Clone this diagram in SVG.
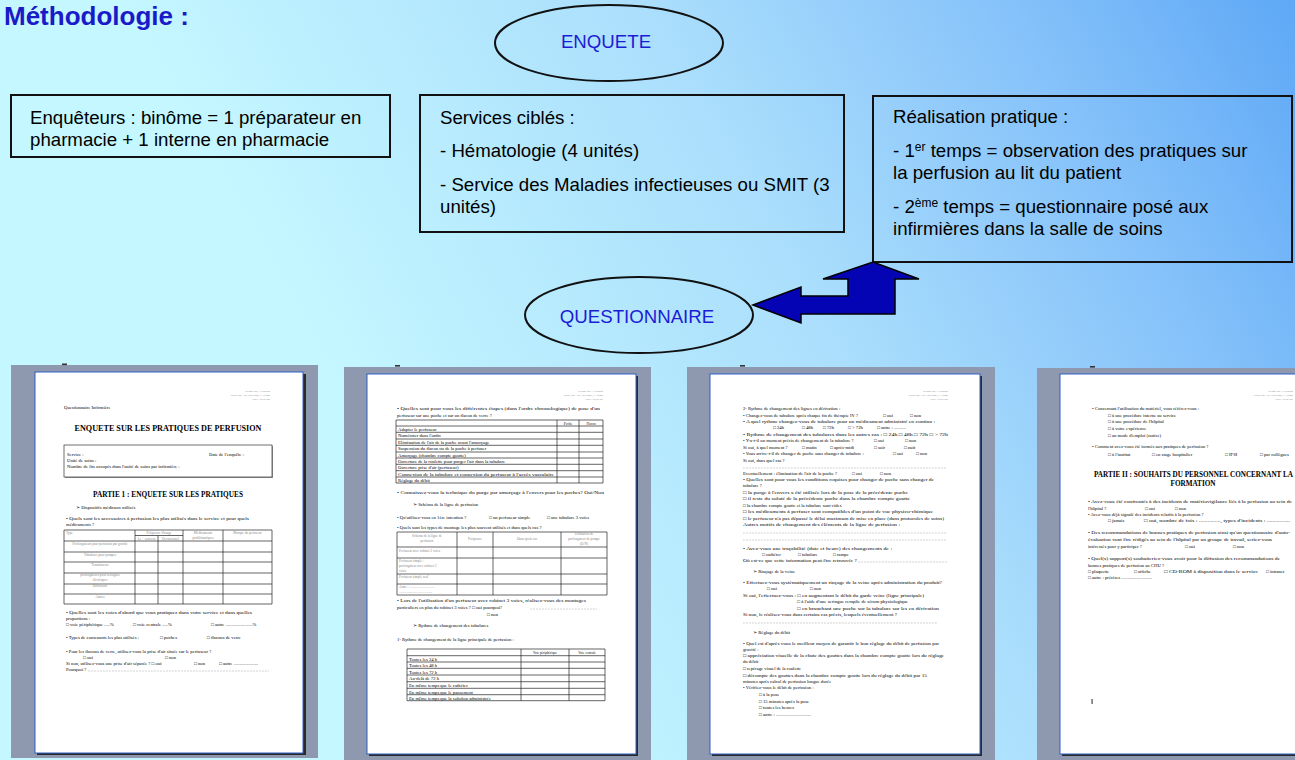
<svg xmlns="http://www.w3.org/2000/svg" width="1295" height="760" viewBox="0 0 1295 760">
<defs>
<linearGradient id="bg" gradientUnits="userSpaceOnUse" x1="400" y1="500" x2="1295" y2="0">
<stop offset="0" stop-color="#c4f7ff"/>
<stop offset="0.45" stop-color="#aadefc"/>
<stop offset="0.75" stop-color="#86c2fa"/>
<stop offset="1" stop-color="#5ea8f6"/>
</linearGradient>
<style>
.title{font-family:"Liberation Sans",Arial,sans-serif;font-weight:bold;font-size:26px;fill:#1a1ac8}
.box{fill:none;stroke:#111;stroke-width:2}
.ell{fill:none;stroke:#111;stroke-width:2}
.lbl{font-family:"Liberation Sans",Arial,sans-serif;font-size:18.67px;fill:#000}
.sup{font-size:12px}
.elab{font-family:"Liberation Sans",Arial,sans-serif;font-size:18.67px;fill:#1c1cd6;text-anchor:middle}
.frame{fill:#8e98ae}
.mark{fill:#333}
.shadow{fill:#2a2a2a}
.page{fill:#fff;stroke:#2f60c4;stroke-width:1}
.d{font-family:"Liberation Serif","Times New Roman",serif;font-size:4.7px;fill:#000}
.g{font-family:"Liberation Serif","Times New Roman",serif;font-size:3.4px;fill:#888}
.gc{font-family:"Liberation Serif","Times New Roman",serif;font-size:3.4px;fill:#888;text-anchor:middle}
.hd{font-family:"Liberation Serif","Times New Roman",serif;font-size:2.8px;fill:#888;text-anchor:end}
.h1{font-family:"Liberation Serif","Times New Roman",serif;font-size:8px;font-weight:bold;fill:#000;text-anchor:middle}
.h2{font-family:"Liberation Serif","Times New Roman",serif;font-size:7.2px;font-weight:bold;fill:#000}
.tl{fill:none;stroke:#222;stroke-width:0.7}
.dot{stroke:#666;stroke-width:0.5;stroke-dasharray:0.6 0.9}
.arrow{fill:#0404b4;stroke:#000;stroke-width:1.5;stroke-linejoin:miter}
</style>
</defs>

<rect x="0" y="0" width="1295" height="760" fill="url(#bg)"/>

<text id="title" class="title" x="4" y="25">Méthodologie :</text>

<g id="node-enquete">
<ellipse class="ell" cx="609" cy="43" rx="114" ry="38"/>
<text class="elab" x="606" y="48">ENQUETE</text>
</g>

<g id="node-questionnaire">
<ellipse class="ell" cx="639" cy="315" rx="114" ry="38"/>
<text class="elab" x="637" y="323">QUESTIONNAIRE</text>
</g>

<g id="node-enqueteurs">
<rect class="box" x="11" y="95" width="379" height="62"/>
<text class="lbl" x="30" y="124">Enquêteurs : binôme = 1 préparateur en</text>
<text class="lbl" x="30" y="146">pharmacie + 1 interne en pharmacie</text>
</g>

<g id="node-services">
<rect class="box" x="420" y="95" width="424" height="137"/>
<text class="lbl" x="440" y="124">Services ciblés :</text>
<text class="lbl" x="440" y="157">- Hématologie (4 unités)</text>
<text class="lbl" x="440" y="191">- Service des Maladies infectieuses ou SMIT (3</text>
<text class="lbl" x="440" y="213">unités)</text>
</g>

<g id="node-realisation">
<rect class="box" x="873" y="96" width="419" height="166"/>
<text class="lbl" x="893" y="123">Réalisation pratique :</text>
<text class="lbl" x="893" y="157">- 1<tspan class="sup" dy="-6">er</tspan><tspan dy="6"> temps = observation des pratiques sur</tspan></text>
<text class="lbl" x="893" y="179">la perfusion au lit du patient</text>
<text class="lbl" x="893" y="213">- 2<tspan class="sup" dy="-6">ème</tspan><tspan dy="6"> temps = questionnaire posé aux</tspan></text>
<text class="lbl" x="893" y="235">infirmières dans la salle de soins</text>
</g>

<g id="connectors">
<polygon class="arrow" points="753,305 801,287 801,296 848,296 848,279 823,279 873,262 919,279 895,279 895,314 801,314 801,323"/>
</g>

<g id="doc-1">
<rect class="frame" x="11" y="365" width="307" height="393"/>
<rect class="mark" x="62" y="363.5" width="5" height="1.6"/>
<rect class="shadow" x="37" y="374" width="269" height="381"/>
<rect class="page" x="35" y="372" width="268" height="381"/>
<text class="hd" x="270" y="392">Rédigé par : E.Drouin</text>
<text class="hd" x="270" y="396">Validé par : Dr. Thévenot, J. Lafont</text>
<text class="hd" x="270" y="400">Date : 27/03/09</text>
<text class="d" x="64" y="409">Questionnaire Infirmière</text>
<text class="h1" x="168" y="431" textLength="187" lengthAdjust="spacingAndGlyphs">ENQUETE SUR LES PRATIQUES DE PERFUSION</text>
<rect x="65" y="446" width="208" height="32" fill="#999"/>
<rect x="64" y="445" width="208" height="32" fill="#fff" stroke="#333" stroke-width="0.7"/>
<text class="d" x="67" y="456">Service :</text>
<text class="d" x="209" y="456">Date de l'enquête :</text>
<text class="d" x="67" y="462">Unité de soins :</text>
<text class="d" x="67" y="468">Nombre de lits occupés dans l'unité de soins par infirmière :</text>
<text class="h2" x="168" y="497" text-anchor="middle" textLength="150" lengthAdjust="spacingAndGlyphs">PARTIE 1 : ENQUETE SUR LES PRATIQUES</text>
<text class="d" x="76" y="509">➢  Dispositifs médicaux utilisés</text>
<text class="d" x="66" y="520" textLength="183" lengthAdjust="spacingAndGlyphs">• Quels sont les accessoires à perfusion les plus utilisés dans le service et pour quels</text>
<text class="d" x="66" y="526">médicaments ?</text>
<path class="tl" d="M64 530H272V604H64Z M64 541H272 M64 552H272 M64 562H272 M64 573H272 M64 584H272 M64 594H272 M135 535.5H183 M135 530V604 M183 530V604 M223 530V604 M158 535.5V604"/>
<text class="g" x="66" y="534">Type</text>
<text class="gc" x="159" y="534">Fréquence d'usage</text>
<text class="gc" x="146.5" y="540">Le + souvent</text>
<text class="gc" x="170.5" y="540">Occasionnel</text>
<text class="gc" x="203" y="534">Médicaments</text>
<text class="gc" x="203" y="539">problématiques</text>
<text class="gc" x="247.5" y="534">Marque du perfuseur</text>
<text class="gc" x="100" y="545">Prolongateurs pour perfusion par gravité</text>
<text class="gc" x="100" y="556">Tubulures pour pompes</text>
<text class="gc" x="100" y="566">Transfuseurs</text>
<text class="gc" x="100" y="576">prolongateurs pour seringues</text>
<text class="gc" x="100" y="580.5">électriques</text>
<text class="gc" x="100" y="587">Diffuseurs</text>
<text class="gc" x="100" y="598">Autres</text>
<text class="d" x="66" y="614" textLength="186" lengthAdjust="spacingAndGlyphs">• Quelles sont les voies d'abord que vous pratiquez dans votre service et dans quelles</text>
<text class="d" x="66" y="620">proportions :</text>
<text class="d" x="66" y="626">□ voie périphérique .....%</text>
<text class="d" x="133" y="626">□ voie centrale .....%</text>
<text class="d" x="211" y="626">□ autre .......................%</text>
<text class="d" x="66" y="639">• Types de contenants les plus utilisés :</text>
<text class="d" x="160" y="639">□ poches</text>
<text class="d" x="207" y="639">□ flacons de verre</text>
<text class="d" x="66" y="653">• Pour les flacons de verre, utilisez-vous la prise d'air située sur le perfuseur ?</text>
<text class="d" x="83" y="659">□ oui</text>
<text class="d" x="165" y="659">□ non</text>
<text class="d" x="66" y="665">Si non, utilisez-vous une prise d'air séparée ?  □ oui</text>
<text class="d" x="194" y="665">□ non</text>
<text class="d" x="219" y="665">□ autre .....................</text>
<text class="d" x="66" y="671">Pourquoi ?</text>
<line class="dot" x1="88" y1="671" x2="269" y2="671"/>
</g>

<g id="doc-2">
<rect class="frame" x="344" y="367" width="307" height="393"/>
<rect class="mark" x="395" y="365" width="5" height="1.6"/>
<rect class="shadow" x="369" y="376" width="269" height="380"/>
<rect class="page" x="367" y="374" width="269" height="380"/>
<text class="hd" x="603" y="392">Rédigé par : E.Drouin</text>
<text class="hd" x="603" y="396">Validé par : Dr. Thévenot, J. Lafont</text>
<text class="hd" x="603" y="400">Date : 27/03/09</text>
<text class="d" x="397" y="410" textLength="203" lengthAdjust="spacingAndGlyphs">• Quelles sont pour vous les différentes étapes (dans l'ordre chronologique) de pose d'un</text>
<text class="d" x="397" y="417">perfuseur sur une poche et sur un flacon de verre ?</text>
<path class="tl" d="M396 420H603V483H396Z M396 426H603 M396 432.3H603 M396 439H603 M396 445.3H603 M396 452H603 M396 458H603 M396 464.3H603 M396 470.7H603 M396 477H603 M557 420V483 M579 420V483"/>
<text class="gc" x="568" y="425" style="fill:#111">Poche</text>
<text class="gc" x="591" y="425" style="fill:#111">Flacon</text>
<text class="d" x="398" y="431">Adapter le perfuseur</text>
<text class="d" x="398" y="437.3">Numéroter dans l'ordre</text>
<text class="d" x="398" y="443.7">Elimination de l'air de la poche avant l'amorçage</text>
<text class="d" x="398" y="450">Suspension du flacon ou de la poche à perfuser</text>
<text class="d" x="398" y="456.7">Amorçage (chambre compte goutte)</text>
<text class="d" x="398" y="463">Ouverture de la roulette pour purger l'air dans la tubulure</text>
<text class="d" x="398" y="469.3">Ouverture prise d'air (perfuseur)</text>
<text class="d" x="398" y="475.7" textLength="156" lengthAdjust="spacingAndGlyphs">Connexion de la tubulure et connexion du perfuseur à l'accès vasculaire</text>
<text class="d" x="398" y="482">Réglage du débit</text>
<text class="d" x="397" y="494" textLength="207" lengthAdjust="spacingAndGlyphs">• Connaissez-vous la technique du purge par amorçage à l'envers pour les poches? Oui/Non</text>
<text class="d" x="413" y="506">➢  Schéma de la ligne de perfusion</text>
<text class="d" x="397" y="519">• Qu'utilisez-vous en 1ère intention ?</text>
<text class="d" x="489" y="519">□ un perfuseur simple</text>
<text class="d" x="547" y="519">□ une tubulure 3 voies</text>
<text class="d" x="397" y="529">• Quels sont les types de montage les plus souvent utilisés et dans quels cas ?</text>
<path class="tl" d="M397 532H607V595H397Z M397 547H607 M397 558H607 M397 574H607 M397 584H607 M457 532V595 M493 532V595 M561 532V595"/>
<text class="gc" x="427" y="537">Schéma de la ligne de</text>
<text class="gc" x="427" y="542">perfusion</text>
<text class="gc" x="475" y="540">Fréquence</text>
<text class="gc" x="527" y="540">Dans quels cas</text>
<text class="gc" x="584" y="535">Utilisation de</text>
<text class="gc" x="584" y="540">prolongateur de pompe</text>
<text class="gc" x="584" y="545">(O/N)</text>
<text class="g" x="399" y="551.5">Perfuseur avec robinet 3 voies</text>
<text class="g" x="399" y="561.5">Perfuseur simple +</text>
<text class="g" x="399" y="566.5">prolongateur avec robinet 3</text>
<text class="g" x="399" y="571.5">voies</text>
<text class="g" x="399" y="578">Perfuseur simple seul</text>
<text class="g" x="399" y="588">Autre : .............................</text>
<text class="g" x="399" y="593">.......................................</text>
<text class="d" x="397" y="602" textLength="189" lengthAdjust="spacingAndGlyphs">• Lors de l'utilisation d'un perfuseur avec robinet 3 voies, réalisez-vous des montages</text>
<text class="d" x="397" y="609">particuliers en plus du robinet 3 voies ?  □ oui pourquoi?</text>
<line class="dot" x1="530" y1="609" x2="597" y2="609"/>
<text class="d" x="487" y="616">□ non</text>
<text class="d" x="413" y="627">➢  Rythme de changement des tubulures</text>
<text class="d" x="397" y="641">1- Rythme de changement de la ligne principale de perfusion :</text>
<path class="tl" d="M407 649H605V700.7H407Z M407 655.7H605 M407 662H605 M407 668.3H605 M407 675H605 M407 681.7H605 M407 688.3H605 M407 694.7H605 M521 649V700.7 M569 649V700.7"/>
<text class="gc" x="545" y="654" style="fill:#111">Voie périphérique</text>
<text class="gc" x="587" y="654" style="fill:#111">Voie centrale</text>
<text class="d" x="409" y="661">Toutes les 24 h</text>
<text class="d" x="409" y="667.3">Toutes les 48 h</text>
<text class="d" x="409" y="673.6">Toutes les 72 h</text>
<text class="d" x="409" y="680.3">Au-delà de 72 h</text>
<text class="d" x="409" y="687">En même temps que le cathéter</text>
<text class="d" x="409" y="693.6">En même temps que le pansement</text>
<text class="d" x="409" y="700">En même temps que la solution administrée</text>
</g>

<g id="doc-3">
<rect class="frame" x="687" y="367" width="308" height="393"/>
<rect class="mark" x="740" y="365" width="5" height="1.6"/>
<rect class="shadow" x="712" y="376" width="270" height="380"/>
<rect class="page" x="710" y="374" width="270" height="380"/>
<text class="hd" x="948" y="392">Rédigé par : E.Drouin</text>
<text class="hd" x="948" y="396">Validé par : Dr. Thévenot, J. Lafont</text>
<text class="hd" x="948" y="400">Date : 27/03/09</text>
<text class="d" x="743" y="410">2- Rythme de changement des lignes en dérivation :</text>
<text class="d" x="743" y="417">• Changez-vous de tubulure après chaque fin de thérapie IV ?</text>
<text class="d" x="883" y="417">□ oui</text>
<text class="d" x="910" y="417">□ non</text>
<text class="d" x="743" y="423" textLength="192" lengthAdjust="spacingAndGlyphs">• A quel rythme changez-vous de tubulure pour un médicament administré en continu :</text>
<text class="d" x="773" y="429">□ 24h</text>
<text class="d" x="802" y="429">□ 48h</text>
<text class="d" x="823" y="429">□ 72h</text>
<text class="d" x="848" y="429">□ &gt; 72h</text>
<text class="d" x="877" y="429">□ autre : ..........</text>
<text class="d" x="743" y="436" textLength="205" lengthAdjust="spacingAndGlyphs">• Rythme de changement des tubulures dans les autres cas : □ 24h   □ 48h   □ 72h   □ &gt; 72h</text>
<text class="d" x="743" y="442">• Y-a-t-il un moment précis de changement de la tubulure ?</text>
<text class="d" x="874" y="442">□ oui</text>
<text class="d" x="905" y="442">□ non</text>
<text class="d" x="743" y="449">Si oui, à quel moment ?</text>
<text class="d" x="802" y="449">□ matin</text>
<text class="d" x="830" y="449">□ après-midi</text>
<text class="d" x="874" y="449">□ soir</text>
<text class="d" x="904" y="449">□ nuit</text>
<text class="d" x="743" y="455">• Vous arrive-t-il de changer de poche sans changer de tubulure :</text>
<text class="d" x="893" y="455">□ oui</text>
<text class="d" x="916" y="455">□ non</text>
<text class="d" x="743" y="462">Si oui, dans quel cas ?</text>
<line class="dot" x1="743" y1="468" x2="947" y2="468"/>
<text class="d" x="743" y="475">Eventuellement : élimination de l'air de la poche ?</text>
<text class="d" x="852" y="475">□ oui</text>
<text class="d" x="880" y="475">□ non</text>
<text class="d" x="743" y="481" textLength="191" lengthAdjust="spacingAndGlyphs">• Quelles sont pour vous les conditions requises pour changer de poche sans changer de</text>
<text class="d" x="743" y="487">tubulure ?</text>
<text class="d" x="743" y="494" textLength="165" lengthAdjust="spacingAndGlyphs">□ la purge à l'envers a été utilisée lors de la pose de la précédente poche</text>
<text class="d" x="743" y="500" textLength="167" lengthAdjust="spacingAndGlyphs">□ il reste du soluté de la précédente poche dans la chambre compte goutte</text>
<text class="d" x="743" y="507">□ la chambre compte goutte et la tubulure sont vides</text>
<text class="d" x="743" y="513" textLength="190" lengthAdjust="spacingAndGlyphs">□ les médicaments à perfuser sont compatibles d'un point de vue physico-chimique</text>
<text class="d" x="743" y="520" textLength="201" lengthAdjust="spacingAndGlyphs">□ le perfuseur n'a pas dépassé le délai maximum de mise en place (dans protocoles de soins)</text>
<text class="d" x="743" y="526" textLength="157" lengthAdjust="spacingAndGlyphs">Autres motifs de changement des éléments de la ligne de perfusion :</text>
<line class="dot" x1="743" y1="533" x2="947" y2="533"/>
<line class="dot" x1="743" y1="540" x2="947" y2="540"/>
<text class="d" x="743" y="550" textLength="149" lengthAdjust="spacingAndGlyphs">• Avez-vous une traçabilité (date et heure) des changements de :</text>
<text class="d" x="762" y="556">□ cathéter</text>
<text class="d" x="798" y="556">□ tubulure</text>
<text class="d" x="833" y="556">□ rampe</text>
<text class="d" x="743" y="562" textLength="114" lengthAdjust="spacingAndGlyphs">Où est-ce que cette information peut être retrouvée ?</text>
<line class="dot" x1="858" y1="562" x2="947" y2="562"/>
<text class="d" x="753" y="573">➢  Rinçage de la veine</text>
<text class="d" x="743" y="584" textLength="199" lengthAdjust="spacingAndGlyphs">• Effectuez-vous systématiquement un rinçage de la veine après administration du produit?</text>
<text class="d" x="767" y="590">□ oui</text>
<text class="d" x="810" y="590">□ non</text>
<text class="d" x="743" y="597" textLength="181" lengthAdjust="spacingAndGlyphs">Si oui, l'effectuez-vous :  □ en augmentant le débit du garde veine (ligne principale)</text>
<text class="d" x="797" y="603" textLength="111" lengthAdjust="spacingAndGlyphs">□ à l'aide d'une seringue remplie de sérum physiologique</text>
<text class="d" x="797" y="610" textLength="142" lengthAdjust="spacingAndGlyphs">□ en branchant une poche sur la tubulure sur les en dérivation</text>
<text class="d" x="743" y="616" textLength="154" lengthAdjust="spacingAndGlyphs">Si non, le réalisez-vous dans certains cas précis, lesquels éventuellement ?</text>
<line class="dot" x1="743" y1="623" x2="937" y2="623"/>
<text class="d" x="753" y="634">➢  Réglage du débit</text>
<text class="d" x="743" y="645" textLength="196" lengthAdjust="spacingAndGlyphs">• Quel est d'après vous le meilleur moyen de garantir le bon réglage du débit de perfusion par</text>
<text class="d" x="743" y="651">gravité :</text>
<text class="d" x="743" y="657" textLength="201" lengthAdjust="spacingAndGlyphs">□ appréciation visuelle de la chute des gouttes dans la chambre compte goutte lors du réglage</text>
<text class="d" x="743" y="663">du débit</text>
<text class="d" x="743" y="670">□ repérage visuel de la roulette</text>
<text class="d" x="743" y="677" textLength="184" lengthAdjust="spacingAndGlyphs">□ décompte des gouttes dans la chambre compte goutte lors du réglage du débit par 15</text>
<text class="d" x="743" y="683">minutes après calcul de perfusion longue durée</text>
<text class="d" x="743" y="689">• Vérifiez-vous le débit de perfusion :</text>
<text class="d" x="759" y="696">□ à la pose</text>
<text class="d" x="759" y="703">□ 15 minutes après la pose</text>
<text class="d" x="759" y="709">□ toutes les heures</text>
<text class="d" x="759" y="716">□ autre : ..............................</text>
</g>

<g id="doc-4">
<rect class="frame" x="1037" y="368" width="260" height="392"/>
<rect class="mark" x="1090" y="366" width="5" height="1.6"/>
<rect class="shadow" x="1062" y="376" width="280" height="380"/>
<rect class="page" x="1060" y="374" width="280" height="380"/>
<text class="hd" x="1293" y="392">Rédigé par : E.Drouin</text>
<text class="hd" x="1293" y="396">Validé par : Dr. Thévenot, J. Lafont</text>
<text class="hd" x="1293" y="400">Date : 27/03/09</text>
<text class="d" x="1092" y="410">• Concernant l'utilisation du matériel, vous référez-vous :</text>
<text class="d" x="1108" y="417">□ à une procédure interne au service</text>
<text class="d" x="1108" y="423">□ à une procédure de l'hôpital</text>
<text class="d" x="1108" y="430">□ à votre expérience</text>
<text class="d" x="1108" y="437">□ au mode d'emploi (notice)</text>
<text class="d" x="1092" y="448">• Comment avez-vous été formés aux pratiques de perfusion ?</text>
<text class="d" x="1108" y="456">□ à l'institut</text>
<text class="d" x="1152" y="456">□ en stage hospitalier</text>
<text class="d" x="1225" y="456">□ IFSI</text>
<text class="d" x="1260" y="456">□ par collègues</text>
<text class="h2" x="1094" y="477" textLength="199" lengthAdjust="spacingAndGlyphs">PARTIE II : SOUHAITS DU PERSONNEL CONCERNANT LA</text>
<text class="h2" x="1193" y="486" text-anchor="middle">FORMATION</text>
<text class="d" x="1088" y="503" textLength="204" lengthAdjust="spacingAndGlyphs">• Avez-vous été confrontés à des incidents de matériovigilance liés à la perfusion au sein de</text>
<text class="d" x="1088" y="510">l'hôpital ?</text>
<text class="d" x="1145" y="510">□ oui</text>
<text class="d" x="1175" y="510">□ non</text>
<text class="d" x="1088" y="516">• Avez-vous déjà signalé des incidents relatifs à la perfusion ?</text>
<text class="d" x="1108" y="522">□ jamais</text>
<text class="d" x="1144" y="522" textLength="146" lengthAdjust="spacingAndGlyphs">□ oui, nombre de fois : ..............., types d'incidents : ................</text>
<text class="d" x="1088" y="534" textLength="202" lengthAdjust="spacingAndGlyphs">• Des recommandations de bonnes pratiques de perfusion ainsi qu'un questionnaire d'auto-</text>
<text class="d" x="1088" y="541" textLength="184" lengthAdjust="spacingAndGlyphs">évaluation vont être rédigés au sein de l'hôpital par un groupe de travail, seriez-vous</text>
<text class="d" x="1088" y="548">intéressés pour y participer ?</text>
<text class="d" x="1185" y="548">□ oui</text>
<text class="d" x="1233" y="548">□ non</text>
<text class="d" x="1088" y="560" textLength="192" lengthAdjust="spacingAndGlyphs">• Quel(s) support(s) souhaiteriez-vous avoir pour la diffusion des recommandations de</text>
<text class="d" x="1088" y="567">bonnes pratiques de perfusion au CHU ?</text>
<text class="d" x="1088" y="573">□ plaquette</text>
<text class="d" x="1134" y="573">□ affiche</text>
<text class="d" x="1164" y="573" textLength="94" lengthAdjust="spacingAndGlyphs">□ CD-ROM à disposition dans le service</text>
<text class="d" x="1266" y="573">□ intranet</text>
<text class="d" x="1088" y="579">□ autre : précisez ..........................</text>
<rect x="1091.6" y="699" width="0.9" height="5" fill="#111"/>
</g>
</svg>
